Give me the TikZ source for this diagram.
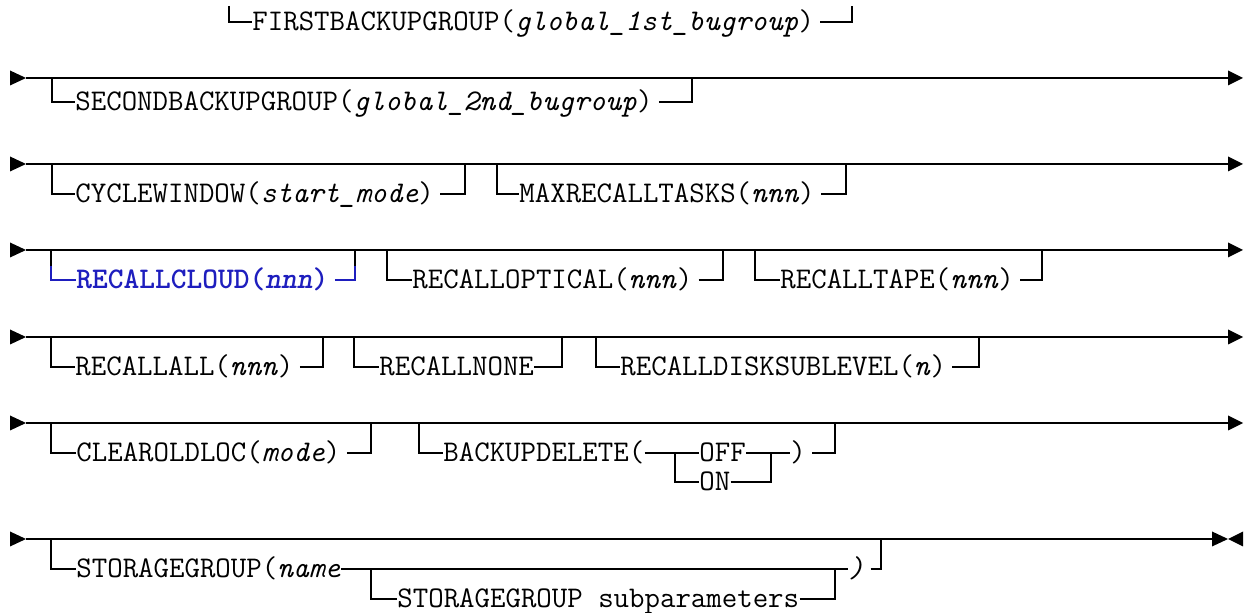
\documentclass[tikz,border=0pt]{standalone}
\usepackage{fontspec}
\definecolor{cloudblue}{RGB}{30,30,190}
\begin{document}
\begin{tikzpicture}[x=0.5pt,y=-0.5pt,
  rail/.style={line width=1.2pt},
  opt/.style={inner sep=0pt, anchor=west, text height=9pt, text depth=0pt,
    font=\ttfamily\fontsize{15pt}{17pt}\selectfont},
  tri/.style={fill=black}]
\useasboundingbox (0,0) rectangle (1248,613);
% ---------- row 0 ----------
\coordinate (t0a) at (229,6); \coordinate (t0b) at (852,6);
\node[opt] (firstbg) at (252,22) {FIRSTBACKUPGROUP(\textit{global\_1st\_bugroup})};
\draw[rail] (t0a) |- (firstbg.west);
\draw[rail] ([xshift=3pt]firstbg.east) -| (t0b);
% ---------- row 1 ----------
\coordinate (m1a) at (26,78); \coordinate (m1b) at (1228,78);
\fill[tri] (10,70.5) -- (m1a) -- (10,85.5) -- cycle;
\draw[rail] (m1a) -- (m1b);
\fill[tri] (1228,70.5) -- (1243,78) -- (1228,85.5) -- cycle;
\coordinate (r1l) at (52,78); \coordinate (r1r) at (692,78);
\node[opt] (secbg) at (75,102) {SECONDBACKUPGROUP(\textit{global\_2nd\_bugroup})};
\draw[rail] (r1l) |- (secbg.west);
\draw[rail] ([xshift=3pt]secbg.east) -| (r1r);
% ---------- row 2 ----------
\coordinate (m2a) at (26,164); \coordinate (m2b) at (1228,164);
\fill[tri] (10,156.5) -- (m2a) -- (10,171.5) -- cycle;
\draw[rail] (m2a) -- (m2b);
\fill[tri] (1228,156.5) -- (1243,164) -- (1228,171.5) -- cycle;
\node[opt] (cycwin) at (75,194) {CYCLEWINDOW(\textit{start\_mode})};
\coordinate (r2a) at (52,164); \coordinate (r2b) at (465,164);
\draw[rail] (r2a) |- (cycwin.west);
\draw[rail] ([xshift=3pt]cycwin.east) -| (r2b);
\node[opt] (maxrec) at (519,194) {MAXRECALLTASKS(\textit{nnn})};
\coordinate (r2c) at (497,164); \coordinate (r2d) at (846,164);
\draw[rail] (r2c) |- (maxrec.west);
\draw[rail] ([xshift=3pt]maxrec.east) -| (r2d);
% ---------- row 3 ----------
\coordinate (m3a) at (26,250); \coordinate (m3b) at (1228,250);
\fill[tri] (10,242.5) -- (m3a) -- (10,257.5) -- cycle;
\draw[rail] (m3a) -- (m3b);
\fill[tri] (1228,242.5) -- (1243,250) -- (1228,257.5) -- cycle;
\node[opt, text=cloudblue] (cloud) at (76,280) {\bfseries RECALLCLOUD(\textit{nnn})};
\coordinate (r3a) at (51,250); \coordinate (r3a2) at (51,266);
\coordinate (r3b) at (355,250); \coordinate (r3b2) at (355,266);
\draw[rail] (r3a) -- (r3a2);
\draw[rail, cloudblue] (r3a2) |- (cloud.west);
\draw[rail, cloudblue] ([xshift=3pt]cloud.east) -| (r3b2);
\draw[rail] (r3b2) -- (r3b);
\node[opt] (optical) at (412,280) {RECALLOPTICAL(\textit{nnn})};
\coordinate (r3c) at (387,250); \coordinate (r3d) at (723,250);
\draw[rail] (r3c) |- (optical.west);
\draw[rail] ([xshift=3pt]optical.east) -| (r3d);
\node[opt] (tape) at (780,280) {RECALLTAPE(\textit{nnn})};
\coordinate (r3e) at (755,250); \coordinate (r3f) at (1042,250);
\draw[rail] (r3e) |- (tape.west);
\draw[rail] ([xshift=3pt]tape.east) -| (r3f);
% ---------- row 4 ----------
\coordinate (m4a) at (26,337); \coordinate (m4b) at (1228,337);
\fill[tri] (10,329.5) -- (m4a) -- (10,344.5) -- cycle;
\draw[rail] (m4a) -- (m4b);
\fill[tri] (1228,329.5) -- (1243,337) -- (1228,344.5) -- cycle;
\node[opt] (rall) at (75,367) {RECALLALL(\textit{nnn})};
\coordinate (r4a) at (51,337); \coordinate (r4b) at (323,337);
\draw[rail] (r4a) |- (rall.west);
\draw[rail] ([xshift=3pt]rall.east) -| (r4b);
\node[opt] (rnone) at (379,367) {RECALLNONE};
\coordinate (r4c) at (354,337); \coordinate (r4d) at (562,337);
\draw[rail] (r4c) |- (rnone.west);
\draw[rail] (rnone.east) -| (r4d);
\node[opt] (rdisk) at (620,367) {RECALLDISKSUBLEVEL(\textit{n})};
\coordinate (r4e) at (596,337); \coordinate (r4f) at (979,337);
\draw[rail] (r4e) |- (rdisk.west);
\draw[rail] ([xshift=3pt]rdisk.east) -| (r4f);
% ---------- row 5 ----------
\coordinate (m5a) at (26,423); \coordinate (m5b) at (1228,423);
\fill[tri] (10,415.5) -- (m5a) -- (10,430.5) -- cycle;
\draw[rail] (m5a) -- (m5b);
\fill[tri] (1228,415.5) -- (1243,423) -- (1228,430.5) -- cycle;
\node[opt] (clold) at (76,453) {CLEAROLDLOC(\textit{mode})};
\coordinate (r5a) at (51,423); \coordinate (r5b) at (371,423);
\draw[rail] (r5a) |- (clold.west);
\draw[rail] ([xshift=3pt]clold.east) -| (r5b);
\node[opt] (bkdel) at (443,453) {BACKUPDELETE(};
\node[opt] (off) at (699,453) {OFF};
\node[opt] (on) at (699,482) {ON};
\node[opt] (bkpar) at (790,453) {)};
\coordinate (r5c) at (419,423); \coordinate (r5d) at (835,423);
\coordinate (j1) at (675,453); \coordinate (j2) at (771,453);
\draw[rail] (r5c) |- (bkdel.west);
\draw[rail] (bkdel.east) -- (off.west);
\draw[rail] (j1) |- (on.west);
\draw[rail] (off.east) -- (bkpar.west);
\draw[rail] (on.east) -| (j2);
\draw[rail] ([xshift=3pt]bkpar.east) -| (r5d);
% ---------- row 6 ----------
\coordinate (m6a) at (26,539); \coordinate (m6b) at (1212,539);
\fill[tri] (10,531.5) -- (m6a) -- (10,546.5) -- cycle;
\draw[rail] (m6a) -- (m6b);
\fill[tri] (1212,531.5) -- (1228,539) -- (1212,546.5) -- cycle;
\fill[tri] (1243,531.5) -- (1228,539) -- (1243,546.5) -- cycle;
\node[opt] (sg) at (76,569) {STORAGEGROUP(\textit{name}};
\node[opt] (sgsub) at (397,599) {STORAGEGROUP subparameters};
\node[opt] (sgpar) at (848,569) {\textit{)}};
\coordinate (r6a) at (51,539); \coordinate (r6b) at (881,539);
\coordinate (j3) at (371,569); \coordinate (j4) at (835,569);
\draw[rail] (r6a) |- (sg.west);
\draw[rail] (sg.east) -- (sgpar.west);
\draw[rail] (j3) |- (sgsub.west);
\draw[rail] (sgsub.east) -| (j4);
\draw[rail] ([xshift=3pt]sgpar.east) -| (r6b);
\end{tikzpicture}
\end{document}
